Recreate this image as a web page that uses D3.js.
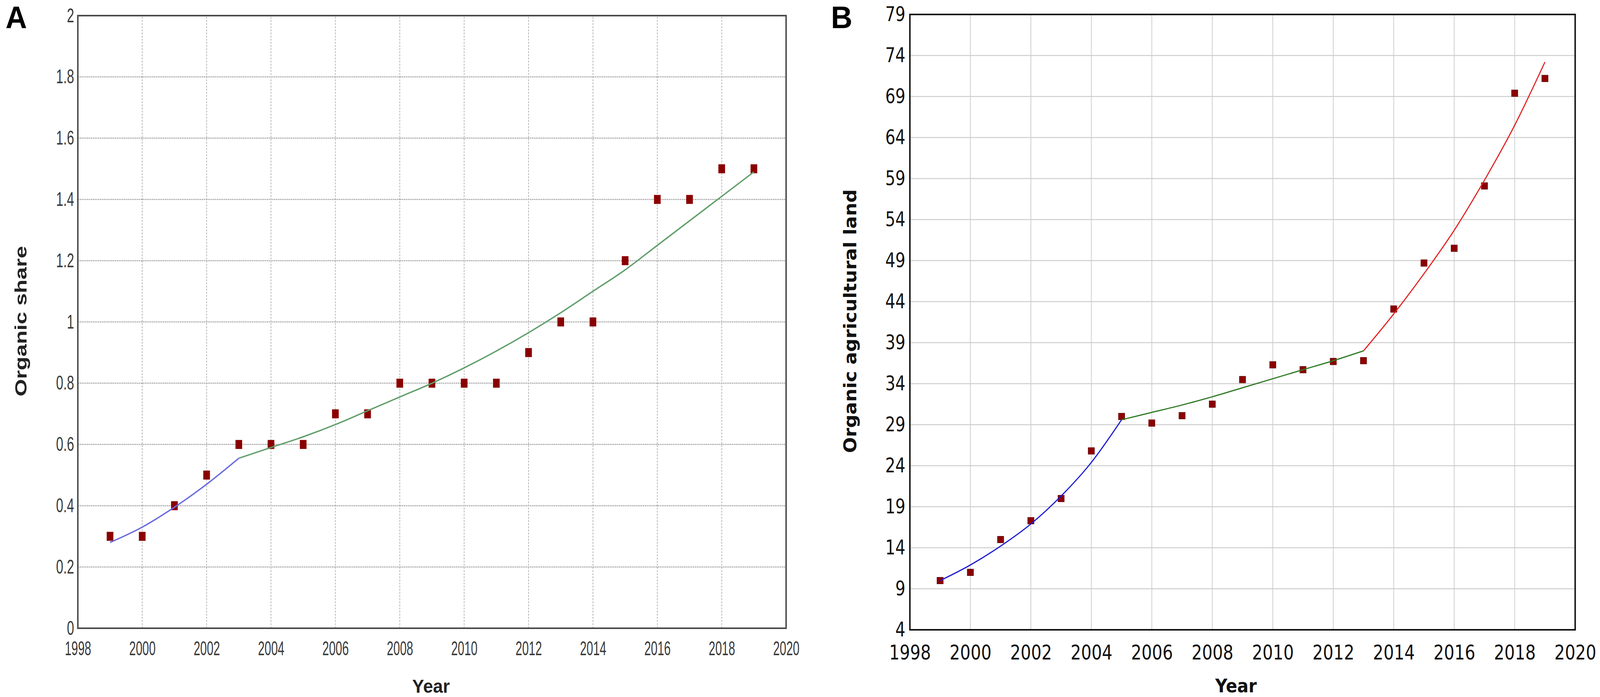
<!DOCTYPE html>
<html>
<head>
<meta charset="utf-8">
<script src="https://cdn.jsdelivr.net/npm/d3@7"></script>
<style>
  html, body { margin: 0; padding: 0; background: #fff; overflow: hidden; }
  svg { display: block; width: 100vw; height: 100vh; }
</style>
</head>
<body>
<script>
/*======================== DATA ========================*/
var years = [1999, 2000, 2001, 2002, 2003, 2004, 2005, 2006, 2007, 2008, 2009,
             2010, 2011, 2012, 2013, 2014, 2015, 2016, 2017, 2018, 2019];

// panel A: organic share
var shareValues = [0.3, 0.3, 0.4, 0.5, 0.6, 0.6, 0.6, 0.7, 0.7, 0.8, 0.8,
                   0.8, 0.8, 0.9, 1.0, 1.0, 1.2, 1.4, 1.4, 1.5, 1.5];
var shareBlueYears = [1999, 2000, 2001, 2002, 2003];
var shareBlueFit = [0.28, 0.33, 0.395, 0.47, 0.555];
var shareGreenYears = [2003, 2004, 2005, 2006, 2007, 2008, 2009, 2010, 2011,
                       2012, 2013, 2014, 2015, 2016, 2017, 2018, 2019];
var shareGreenFit = [0.555, 0.59, 0.625, 0.665, 0.71, 0.755, 0.80, 0.85, 0.905,
                     0.965, 1.03, 1.10, 1.17, 1.25, 1.33, 1.41, 1.49];
var shareXTicks = [1998, 2000, 2002, 2004, 2006, 2008, 2010, 2012, 2014, 2016, 2018, 2020];
var shareYTicks = [0, 0.2, 0.4, 0.6, 0.8, 1, 1.2, 1.4, 1.6, 1.8, 2];

// panel B: organic agricultural land
var landValues = [10.0, 11.0, 15.0, 17.3, 20.0, 25.8, 30.0, 29.2, 30.1, 31.5, 34.5,
                  36.3, 35.7, 36.7, 36.8, 43.1, 48.7, 50.5, 58.1, 69.4, 71.2];
var landBlueYears = [1999, 2000, 2001, 2002, 2003, 2004, 2005];
var landBlueFit = [10.0, 11.9, 14.2, 16.9, 20.3, 24.4, 29.6];
var landGreenYears = [2005, 2006, 2007, 2008, 2009, 2010, 2011, 2012, 2013];
var landGreenFit = [29.6, 30.5, 31.4, 32.4, 33.5, 34.6, 35.7, 36.8, 38.0];
var landRedYears = [2013, 2014, 2015, 2016, 2017, 2018, 2019];
var landRedFit = [38.0, 42.5, 47.4, 52.7, 58.8, 65.5, 73.2];
var landXTicks = [1998, 2000, 2002, 2004, 2006, 2008, 2010, 2012, 2014, 2016, 2018, 2020];
var landYTicks = [4, 9, 14, 19, 24, 29, 34, 39, 44, 49, 54, 59, 64, 69, 74, 79];

/*======================== SETUP ========================*/
// fixed drawing units, scaled to whatever the window really is
var svg = d3.select("body").append("svg")
    .attr("viewBox", "0 0 4317 1784")
    .attr("preserveAspectRatio", "none");

svg.append("rect").attr("width", 4317).attr("height", 1784).attr("fill", "#fff");

// squeeze text horizontally to mimic the narrow fonts of the original
var squeeze = function(sel, factor){
    sel.each(function(){
        var len = this.getComputedTextLength();
        d3.select(this).attr("textLength", len * factor).attr("lengthAdjust", "spacingAndGlyphs");
    });
}

var zip = function(xs, ys){
    return xs.map(function(x, i){ return [x, ys[i]]; });
}

/*======================== PANEL A ========================*/
var ax = d3.scaleLinear().domain([1998, 2020]).range([210, 2121]);
var ay = d3.scaleLinear().domain([0, 2]).range([1608, 40]);

var gA = svg.append("g");

// grid
gA.selectAll(".hgrid").data(shareYTicks.slice(1, -1)).enter().append("line")
    .attr("x1", ax(1998)).attr("x2", ax(2020))
    .attr("y1", function(d){ return ay(d); })
    .attr("y2", function(d){ return ay(d); })
    .attr("stroke", "#a4a4a4")
    .attr("stroke-width", 3)
    .attr("stroke-dasharray", "3,2");

gA.selectAll(".vgrid").data(shareXTicks.slice(1, -1)).enter().append("line")
    .attr("x1", function(d){ return ax(d); })
    .attr("x2", function(d){ return ax(d); })
    .attr("y1", ay(0)).attr("y2", ay(2))
    .attr("stroke", "#b4b4b4")
    .attr("stroke-width", 2)
    .attr("stroke-dasharray", "5,3");

// axes
var axA = gA.append("g")
    .attr("transform", "translate(0," + ay(0) + ")")
    .call(d3.axisBottom(ax).tickValues(shareXTicks).tickSize(0).tickPadding(34).tickFormat(d3.format("d")));
var ayA = gA.append("g")
    .attr("transform", "translate(" + ax(1998) + ",0)")
    .call(d3.axisLeft(ay).tickValues(shareYTicks).tickSize(0).tickPadding(10).tickFormat(function(d){ return String(d); }));

[axA, ayA].forEach(function(g){
    g.select(".domain").remove();
    g.selectAll("text")
        .attr("font-family", "'Liberation Sans', Arial, sans-serif")
        .attr("font-size", 50)
        .attr("fill", "#3a3a3a");
});
squeeze(axA.selectAll("text"), 0.64);
squeeze(ayA.selectAll("text"), 0.7);

// frame
gA.append("rect")
    .attr("x", ax(1998)).attr("y", ay(2))
    .attr("width", ax(2020) - ax(1998))
    .attr("height", ay(0) - ay(2))
    .attr("fill", "none")
    .attr("stroke", "#4a4a4a")
    .attr("stroke-width", 4);

// points
gA.selectAll(".pt").data(zip(years, shareValues)).enter().append("rect")
    .attr("x", function(d){ return ax(d[0]) - 9; })
    .attr("y", function(d){ return ay(d[1]) - 11.5; })
    .attr("width", 18)
    .attr("height", 23)
    .attr("fill", "#8a0000");

// fitted curves
var lineA = d3.line()
    .x(function(d){ return ax(d[0]); })
    .y(function(d){ return ay(d[1]); })
    .curve(d3.curveMonotoneX);

gA.append("path").datum(zip(shareBlueYears, shareBlueFit))
    .attr("d", lineA).attr("fill", "none")
    .attr("stroke", "#6a6ae0").attr("stroke-width", 3.5);
gA.append("path").datum(zip(shareGreenYears, shareGreenFit))
    .attr("d", lineA).attr("fill", "none")
    .attr("stroke", "#5f9e6a").attr("stroke-width", 3.5);

// labels
gA.append("text")
    .attr("x", 15).attr("y", 72)
    .attr("font-family", "'Liberation Sans', Arial, sans-serif")
    .attr("font-weight", "bold").attr("font-size", 80)
    .text("A");

gA.append("text")
    .attr("transform", "translate(72,822) rotate(-90)")
    .attr("text-anchor", "middle")
    .attr("font-family", "'Liberation Sans', Arial, sans-serif")
    .attr("font-weight", "bold").attr("font-size", 44)
    .attr("fill", "#222")
    .attr("textLength", 385).attr("lengthAdjust", "spacingAndGlyphs")
    .text("Organic share");

gA.append("text")
    .attr("x", 1163).attr("y", 1773)
    .attr("text-anchor", "middle")
    .attr("font-family", "'Liberation Sans', Arial, sans-serif")
    .attr("font-weight", "bold").attr("font-size", 48)
    .attr("fill", "#222")
    .text("Year");

/*======================== PANEL B ========================*/
var bx = d3.scaleLinear().domain([1998, 2020]).range([2455, 4250]);
var by = d3.scaleLinear().domain([4, 79]).range([1612, 37]);

var gB = svg.append("g");

gB.selectAll(".hgrid").data(landYTicks.slice(1, -1)).enter().append("line")
    .attr("x1", bx(1998)).attr("x2", bx(2020))
    .attr("y1", function(d){ return by(d); })
    .attr("y2", function(d){ return by(d); })
    .attr("stroke", "#cdcdcd")
    .attr("stroke-width", 2.5);

gB.selectAll(".vgrid").data(landXTicks.slice(1, -1)).enter().append("line")
    .attr("x1", function(d){ return bx(d); })
    .attr("x2", function(d){ return bx(d); })
    .attr("y1", by(4)).attr("y2", by(79))
    .attr("stroke", "#cdcdcd")
    .attr("stroke-width", 2);

var axB = gB.append("g")
    .attr("transform", "translate(0," + by(4) + ")")
    .call(d3.axisBottom(bx).tickValues(landXTicks).tickSize(0).tickPadding(40).tickFormat(d3.format("d")));
var ayB = gB.append("g")
    .attr("transform", "translate(" + bx(1998) + ",0)")
    .call(d3.axisLeft(by).tickValues(landYTicks).tickSize(0).tickPadding(12).tickFormat(d3.format("d")));

[axB, ayB].forEach(function(g){
    g.select(".domain").remove();
    g.selectAll("text")
        .attr("font-family", "'DejaVu Sans', Verdana, sans-serif")
        .attr("font-size", 51)
        .attr("fill", "#111");
});
squeeze(axB.selectAll("text"), 0.87);
squeeze(ayB.selectAll("text"), 0.84);

gB.append("rect")
    .attr("x", bx(1998)).attr("y", by(79))
    .attr("width", bx(2020) - bx(1998))
    .attr("height", by(4) - by(79))
    .attr("fill", "none")
    .attr("stroke", "#111")
    .attr("stroke-width", 4);

gB.selectAll(".pt").data(zip(years, landValues)).enter().append("rect")
    .attr("x", function(d){ return bx(d[0]) - 8.5; })
    .attr("y", function(d){ return by(d[1]) - 8.5; })
    .attr("width", 17)
    .attr("height", 17)
    .attr("fill", "#8b0000")
    .attr("stroke", "#5a0000")
    .attr("stroke-width", 1);

var lineB = d3.line()
    .x(function(d){ return bx(d[0]); })
    .y(function(d){ return by(d[1]); })
    .curve(d3.curveMonotoneX);

gB.append("path").datum(zip(landBlueYears, landBlueFit))
    .attr("d", lineB).attr("fill", "none")
    .attr("stroke", "#1a1ad0").attr("stroke-width", 3);
gB.append("path").datum(zip(landGreenYears, landGreenFit))
    .attr("d", lineB).attr("fill", "none")
    .attr("stroke", "#2f7a24").attr("stroke-width", 3);
gB.append("path").datum(zip(landRedYears, landRedFit))
    .attr("d", lineB).attr("fill", "none")
    .attr("stroke", "#e02424").attr("stroke-width", 3);

gB.append("text")
    .attr("x", 2242).attr("y", 72)
    .attr("font-family", "'Liberation Sans', Arial, sans-serif")
    .attr("font-weight", "bold").attr("font-size", 80)
    .text("B");

gB.append("text")
    .attr("transform", "translate(2310,822) rotate(-90)")
    .attr("text-anchor", "middle")
    .attr("font-family", "'DejaVu Sans', Verdana, sans-serif")
    .attr("font-weight", "bold").attr("font-size", 47)
    .attr("fill", "#111")
    .attr("textLength", 675).attr("lengthAdjust", "spacingAndGlyphs")
    .text("Organic agricultural land");

gB.append("text")
    .attr("x", 3335).attr("y", 1772)
    .attr("text-anchor", "middle")
    .attr("font-family", "'DejaVu Sans', Verdana, sans-serif")
    .attr("font-weight", "bold").attr("font-size", 48)
    .attr("fill", "#111")
    .attr("textLength", 112).attr("lengthAdjust", "spacingAndGlyphs")
    .text("Year");
</script>
</body>
</html>
